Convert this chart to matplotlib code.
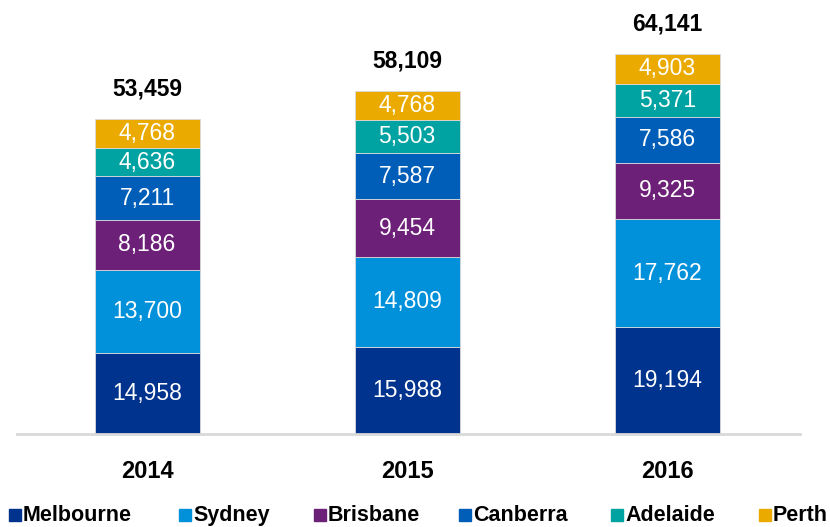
import matplotlib
matplotlib.use('Agg')
from matplotlib import pyplot as plt
from matplotlib.lines import Line2D
import numpy as np

years = ['2014', '2015', '2016']
cities = ['Melbourne', 'Sydney', 'Brisbane', 'Canberra', 'Adelaide', 'Perth']
melbourne = [14958, 15988, 19194]
sydney = [13700, 14809, 17762]
brisbane = [8186, 9454, 9325]
canberra = [7211, 7587, 7586]
adelaide = [4636, 5503, 5371]
perth = [4768, 4768, 4903]
totals = [53459, 58109, 64141]

colors = ['#00338D', '#0091DA', '#6D2077', '#005EB8', '#00A3A1', '#EAAA00']
series = [melbourne, sydney, brisbane, canberra, adelaide, perth]

plt.rcParams['font.family'] = ['Liberation Sans', 'DejaVu Sans']

fig = plt.figure(figsize=(8.3, 5.27), dpi=100)
ax = fig.add_axes([17/830, 93/527, 783/830, 434/527])

# baseline sits a little below the visible axis line in the original
ymin, ymax = 1650, 73030

x = np.arange(len(years))
bottom = np.zeros(len(years))
for vals, col in zip(series, colors):
    ax.bar(x, vals, width=0.404, bottom=bottom, color=col, edgecolor='#d9d9d9', linewidth=0.6)
    for xi, b, v in zip(x, bottom, vals):
        yc = (max(b, ymin) + b + v) / 2
        ax.text(xi, yc, f'{v:,}', ha='center', va='center', color='white', fontsize=16.5)
    bottom += np.array(vals)

for xi, t in zip(x, totals):
    ax.text(xi, t + 4900, f'{t:,}', ha='center', va='center', fontsize=16.5, fontweight='bold')

ax.set_xlim(-0.5, 2.51)
ax.set_ylim(ymin, ymax)
for s in ['top', 'right', 'left']:
    ax.spines[s].set_visible(False)
ax.spines['bottom'].set_color('#d9d9d9')
ax.spines['bottom'].set_linewidth(2)
ax.set_yticks([])
ax.set_xticks(x)
ax.set_xticklabels(years, fontsize=17, fontweight='bold')
ax.tick_params(axis='x', length=0, pad=19)

# legend laid out by hand to match the original spacing
leg_x = [15, 185, 320, 465, 617, 765]
for lx, c, name in zip(leg_x, colors, cities):
    fig.add_artist(Line2D([lx/830], [12/527], marker='s', markersize=9, color=c,
                          linestyle='', transform=fig.transFigure))
    fig.text((lx + 8)/830, 6/527, name, ha='left', va='baseline', fontsize=15.5, fontweight='bold')

plt.savefig('out.png', dpi=100)
